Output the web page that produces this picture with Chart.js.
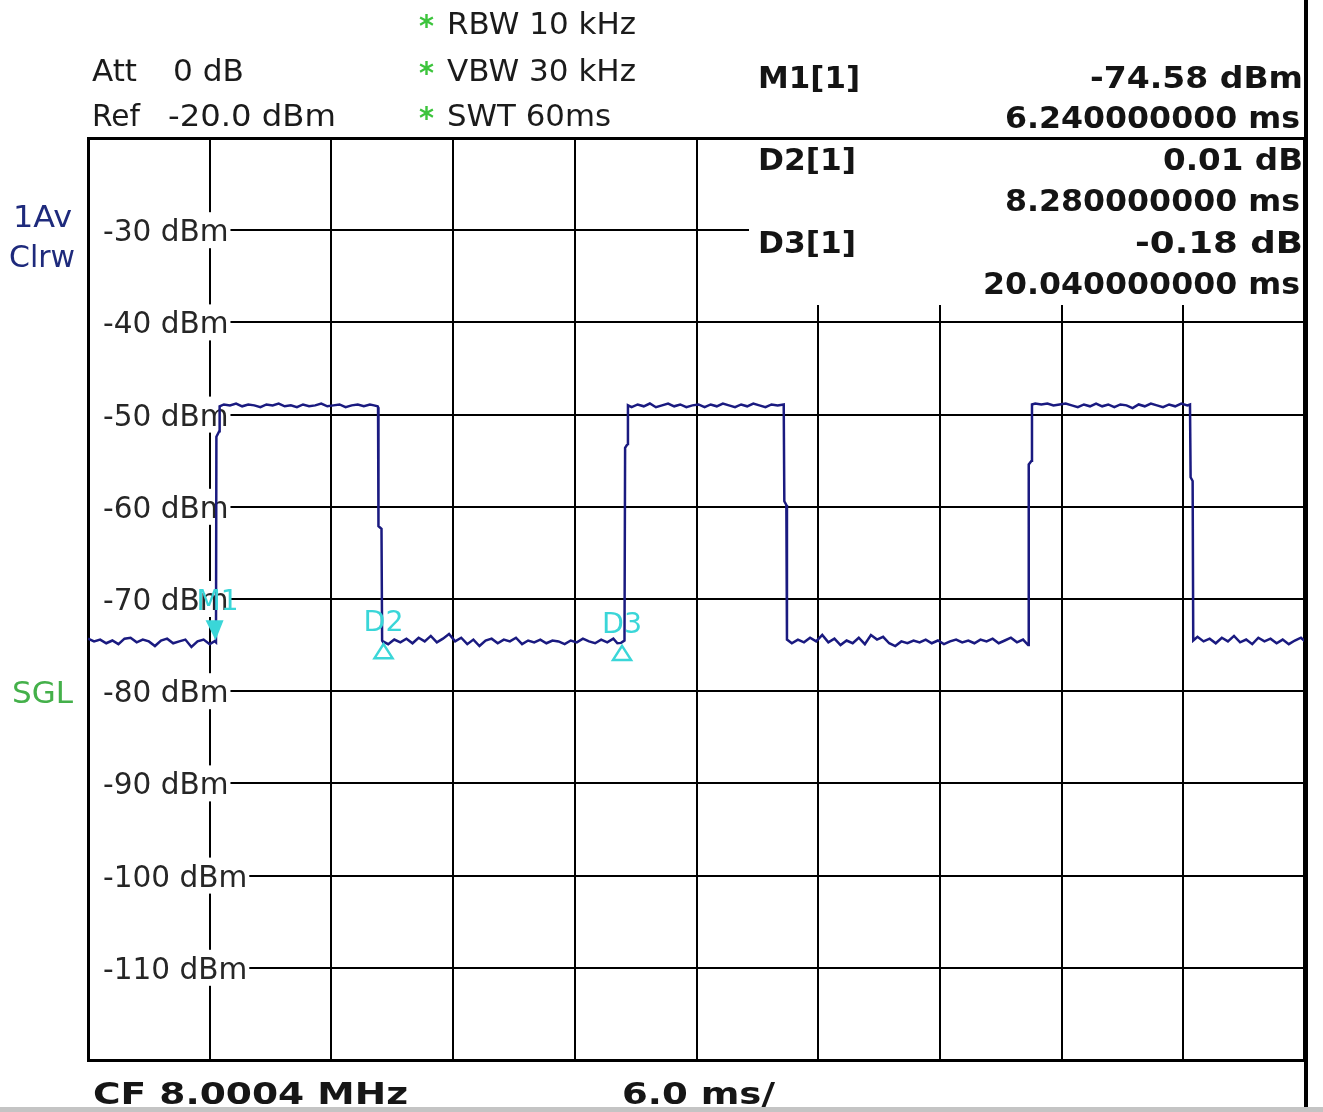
<!DOCTYPE html>
<html>
<head>
<meta charset="utf-8">
<script src="https://cdn.jsdelivr.net/npm/chart.js@4/dist/chart.umd.min.js"></script>
<style>
html,body{margin:0;padding:0;background:#fff;overflow:hidden;}
#wrap{position:relative;width:1323px;height:1112px;}
canvas{display:block;}
</style>
</head>
<body>
<div id="wrap"><canvas id="c" width="1323" height="1112"></canvas></div>
<script>
// ---------- data ----------
const timeMinMs = 0, timeMaxMs = 60, timeStepMs = 6;
const levelMinDbm = -120, levelMaxDbm = -20, levelStepDb = 10;
const yTickValues = [-30, -40, -50, -60, -70, -80, -90, -100, -110];
const yTickLabels = ['-30 dBm', '-40 dBm', '-50 dBm', '-60 dBm', '-70 dBm', '-80 dBm', '-90 dBm', '-100 dBm', '-110 dBm'];

// trace: [time ms, level dBm]
const tracePoints = [
  [0,-74.3],[0.3,-74.6],[0.6,-74.4],[0.9,-74.8],[1.2,-74.5],[1.5,-74.9],[1.8,-74.3],[2.1,-74.2],[2.4,-74.7],[2.7,-74.4],
  [3.0,-74.6],[3.3,-75.1],[3.6,-74.5],[3.9,-74.3],[4.2,-74.8],[4.5,-74.6],[4.8,-74.4],[5.1,-75.2],[5.4,-74.6],[5.7,-74.4],
  [6.0,-74.9],[6.24,-74.58],[6.31,-74.7],[6.33,-52.4],[6.47,-51.8],[6.49,-49.1],
  [6.7,-48.9],[7.0,-49.0],[7.3,-48.8],[7.6,-49.1],[7.9,-48.9],[8.2,-49.0],[8.5,-49.2],[8.8,-48.9],[9.1,-49.0],[9.4,-48.8],
  [9.7,-49.1],[10.0,-49.0],[10.3,-49.2],[10.6,-48.9],[10.9,-49.1],[11.2,-49.0],[11.5,-48.8],[11.8,-49.1],[12.1,-49.0],[12.4,-48.9],
  [12.7,-49.2],[13.0,-49.0],[13.3,-48.9],[13.6,-49.1],[13.9,-48.9],[14.1,-49.0],[14.28,-49.1],
  [14.30,-49.2],[14.32,-62.1],[14.47,-62.4],[14.50,-74.5],
  [14.52,-74.57],[14.8,-74.9],[15.1,-74.4],[15.4,-74.7],[15.7,-74.3],[16.0,-74.8],[16.3,-74.2],[16.6,-74.6],[16.9,-74.0],[17.2,-74.7],
  [17.5,-74.3],[17.8,-73.8],[18.1,-74.6],[18.4,-74.2],[18.7,-74.9],[19.0,-74.4],[19.3,-75.1],[19.6,-74.5],[19.9,-74.3],[20.2,-74.8],
  [20.5,-74.4],[20.8,-74.6],[21.1,-74.2],[21.4,-74.9],[21.7,-74.5],[22.0,-74.7],[22.3,-74.4],[22.6,-74.8],[22.9,-74.5],[23.2,-74.6],
  [23.5,-74.9],[23.8,-74.5],[24.1,-74.7],[24.4,-74.3],[24.7,-74.6],[25.0,-74.8],[25.3,-74.4],[25.6,-74.7],[25.9,-74.3],[26.1,-74.8],
  [26.28,-74.76],[26.45,-74.5],[26.48,-53.6],[26.60,-53.2],[26.62,-49.0],
  [26.8,-49.2],[27.1,-48.9],[27.4,-49.1],[27.7,-48.8],[28.0,-49.2],[28.3,-49.0],[28.6,-48.8],[28.9,-49.1],[29.2,-48.9],[29.5,-49.2],
  [29.8,-49.0],[30.1,-48.9],[30.4,-49.2],[30.7,-48.9],[31.0,-49.1],[31.3,-48.8],[31.6,-49.0],[31.9,-49.2],[32.2,-48.9],[32.5,-49.1],
  [32.8,-48.8],[33.1,-49.0],[33.4,-49.2],[33.7,-48.9],[34.0,-49.0],[34.3,-48.9],
  [34.33,-59.4],[34.43,-59.8],[34.46,-74.4],
  [34.7,-74.8],[35.0,-74.4],[35.3,-74.7],[35.6,-74.2],[35.9,-74.6],[36.2,-73.9],[36.5,-74.7],[36.8,-74.3],[37.1,-75.0],[37.4,-74.5],
  [37.7,-74.8],[38.0,-74.2],[38.3,-74.9],[38.6,-73.9],[38.9,-74.4],[39.2,-74.1],[39.5,-74.8],[39.8,-75.1],[40.1,-74.6],[40.4,-74.8],
  [40.7,-74.5],[41.0,-74.7],[41.3,-74.4],[41.6,-74.8],[41.9,-74.5],[42.2,-74.9],[42.5,-74.6],[42.8,-74.4],[43.1,-74.7],[43.4,-74.5],
  [43.7,-74.8],[44.0,-74.4],[44.3,-74.6],[44.6,-74.3],[44.9,-74.8],[45.2,-74.5],[45.5,-74.2],[45.8,-74.7],[46.1,-74.4],[46.35,-75.0],
  [46.38,-55.4],[46.52,-55.0],[46.54,-48.9],
  [46.7,-48.8],[47.0,-48.9],[47.3,-48.8],[47.6,-49.0],[47.9,-48.9],[48.2,-48.8],[48.5,-49.0],[48.8,-49.2],[49.1,-48.9],[49.4,-49.1],
  [49.7,-48.8],[50.0,-49.1],[50.3,-48.9],[50.6,-49.2],[50.9,-48.9],[51.2,-49.0],[51.5,-49.3],[51.8,-48.9],[52.1,-49.1],[52.4,-48.8],
  [52.7,-49.0],[53.0,-49.2],[53.3,-48.9],[53.6,-49.1],[53.9,-48.8],[54.2,-49.0],[54.33,-48.9],
  [54.36,-56.8],[54.46,-57.2],[54.49,-74.5],
  [54.7,-74.1],[55.0,-74.6],[55.3,-74.3],[55.6,-74.8],[55.9,-74.2],[56.2,-74.6],[56.5,-74.0],[56.8,-74.7],[57.1,-74.4],[57.4,-74.9],
  [57.7,-74.2],[58.0,-74.6],[58.3,-74.3],[58.6,-74.8],[58.9,-74.4],[59.2,-74.9],[59.5,-74.5],[59.8,-74.2],[60.0,-74.6]
];

const markerNames = ['M1', 'D2', 'D3'];
const markerTimeMs = [6.24, 14.52, 26.28];
const markerLevelDbm = [-74.58, -74.57, -74.76];

const readoutNames = ['M1[1]', 'D2[1]', 'D3[1]'];
const readoutValues = ['-74.58 dBm', '0.01 dB', '-0.18 dB'];
const readoutTimes = ['6.240000000 ms', '8.280000000 ms', '20.040000000 ms'];

const headerLeftLabels = ['Att', 'Ref'];
const headerLeftValues = ['0 dB', '-20.0 dBm'];
const headerSettings = ['RBW 10 kHz', 'VBW 30 kHz', 'SWT 60ms'];
const traceInfo = ['1Av', 'Clrw'];
const sweepMode = 'SGL';
const footerCenter = 'CF 8.0004 MHz';
const footerSpan = '6.0 ms/';

// ---------- drawing helpers ----------
function fitText(ctx, text, x, baseline, font, color, width, align) {
  ctx.save();
  ctx.font = font;
  ctx.fillStyle = color;
  ctx.textBaseline = 'alphabetic';
  ctx.textAlign = 'left';
  const w = ctx.measureText(text).width;
  const s = width / w;
  let left = x;
  if (align === 'right') left = x - width;
  else if (align === 'center') left = x - width / 2;
  ctx.translate(left, baseline);
  ctx.scale(s, 1);
  ctx.fillText(text, 0, 0);
  ctx.restore();
}

const overlay = {
  id: 'overlay',
  beforeDatasetsDraw(chart) {
    const ctx = chart.ctx;
    const ys = chart.scales.y;
    const area = chart.chartArea;
    ctx.save();
    // marker table box hides the grid
    ctx.fillStyle = '#fff';
    ctx.fillRect(749, area.top + 2, area.right - 749 - 2, 303 - area.top);
    // y tick labels with white background
    const lf = '30px "DejaVu Sans"';
    ctx.font = lf;
    yTickLabels.forEach((lab, i) => {
      const py = ys.getPixelForValue(yTickValues[i]);
      const w = ctx.measureText(lab).width * 0.985;
      ctx.fillStyle = '#fff';
      ctx.fillRect(area.left + 2, py - 18, 103 - area.left - 2 + w + 2, 36);
      fitText(ctx, lab, 103, py + 11, lf, '#262626', w, 'left');
    });
    ctx.restore();
  },
  afterDatasetsDraw(chart) {
    const ctx = chart.ctx;
    const xs = chart.scales.x, ys = chart.scales.y;
    const cyan = '#3ad6d8';
    ctx.save();
    markerNames.forEach((name, i) => {
      const px = xs.getPixelForValue(markerTimeMs[i]);
      const py = ys.getPixelForValue(markerLevelDbm[i]);
      ctx.fillStyle = cyan;
      ctx.strokeStyle = cyan;
      if (i === 0) {
        ctx.beginPath();
        ctx.moveTo(px - 9, py - 21);
        ctx.lineTo(px + 9, py - 21);
        ctx.lineTo(px + 1, py - 1);
        ctx.closePath();
        ctx.fill();
        fitText(ctx, name, px + 3, py - 31, '28px "DejaVu Sans"', cyan, 42, 'center');
      } else {
        ctx.lineWidth = 2.5;
        ctx.beginPath();
        ctx.moveTo(px + 1, py + 3);
        ctx.lineTo(px + 10, py + 17);
        ctx.lineTo(px - 8, py + 17);
        ctx.closePath();
        ctx.stroke();
        fitText(ctx, name, px + 1, py - 10, '28px "DejaVu Sans"', cyan, 40, 'center');
      }
    });
    ctx.restore();
  },
  afterDraw(chart) {
    const ctx = chart.ctx;
    const area = chart.chartArea;
    const dark = '#1b1b1b';
    const f = '30px "DejaVu Sans"';
    // header left
    fitText(ctx, headerLeftLabels[0], 92, 81, f, dark, 45, 'left');
    fitText(ctx, headerLeftValues[0], 173, 81, f, dark, 71, 'left');
    fitText(ctx, headerLeftLabels[1], 92, 126, f, dark, 48, 'left');
    fitText(ctx, headerLeftValues[1], 168, 126, f, dark, 168, 'left');
    // settings with green asterisks
    const setW = [189, 189, 164];
    const setB = [34, 81, 126];
    headerSettings.forEach((t, i) => {
      fitText(ctx, '*', 419, setB[i] + 2, 'bold 31px "DejaVu Sans"', '#3cc43c', 15, 'left');
      fitText(ctx, t, 447, setB[i], f, dark, setW[i], 'left');
    });
    // marker readout table
    const tf = 'bold 30px "DejaVu Sans"';
    const nameW = [102, 98, 98];
    const nameB = [88, 170, 253];
    const valW = [213, 140, 168];
    const timeW = [295, 295, 317];
    const timeB = [128, 211, 294];
    readoutNames.forEach((n, i) => {
      fitText(ctx, n, 758, nameB[i], tf, '#141414', nameW[i], 'left');
      fitText(ctx, readoutValues[i], 1303, nameB[i], tf, '#141414', valW[i], 'right');
      fitText(ctx, readoutTimes[i], 1300, timeB[i], tf, '#141414', timeW[i], 'right');
    });
    // side labels
    fitText(ctx, traceInfo[0], 13, 227, f, '#1e2a7c', 59, 'left');
    fitText(ctx, traceInfo[1], 9, 267, f, '#1e2a7c', 66, 'left');
    fitText(ctx, sweepMode, 12, 703, f, '#44b04a', 61, 'left');
    // footer
    const ff = 'bold 31px "DejaVu Sans"';
    fitText(ctx, footerCenter, 93, 1104, ff, '#161616', 315, 'left');
    fitText(ctx, footerSpan, 622, 1104, ff, '#161616', 153, 'left');
    // outer right frame line and bottom grey band
    ctx.save();
    ctx.strokeStyle = '#000';
    ctx.lineWidth = 4;
    ctx.beginPath();
    ctx.moveTo(area.right + 1, 0);
    ctx.lineTo(area.right + 1, 1107);
    ctx.stroke();
    ctx.fillStyle = '#c4c4c4';
    ctx.fillRect(0, 1107, 1323, 5);
    ctx.restore();
  }
};

new Chart(document.getElementById('c'), {
  type: 'line',
  data: {
    datasets: [{
      data: tracePoints.map(p => ({ x: p[0], y: p[1] })),
      borderColor: '#1a1a80',
      borderWidth: 2.5,
      pointRadius: 0,
      tension: 0,
      fill: false
    }]
  },
  options: {
    responsive: false,
    animation: false,
    devicePixelRatio: 1,
    layout: { padding: { left: 88, top: 138, right: 18, bottom: 52 } },
    plugins: { legend: { display: false }, tooltip: { enabled: false } },
    scales: {
      x: {
        type: 'linear', min: timeMinMs, max: timeMaxMs,
        ticks: { display: false, stepSize: timeStepMs },
        grid: { color: '#000', lineWidth: (c) => (c.tick && (c.tick.value === timeMaxMs)) ? 4 : 2, drawTicks: false },
        border: { display: true, color: '#000', width: 3 },
        afterFit: (s) => { s.height = 0; }
      },
      y: {
        type: 'linear', min: levelMinDbm, max: levelMaxDbm,
        ticks: { display: false, stepSize: levelStepDb },
        grid: { color: '#000', lineWidth: (c) => (c.tick && (c.tick.value === levelMaxDbm)) ? 3 : 2, drawTicks: false },
        border: { display: true, color: '#000', width: 3 },
        afterFit: (s) => { s.width = 0; }
      }
    }
  },
  plugins: [overlay]
});
</script>
</body>
</html>
